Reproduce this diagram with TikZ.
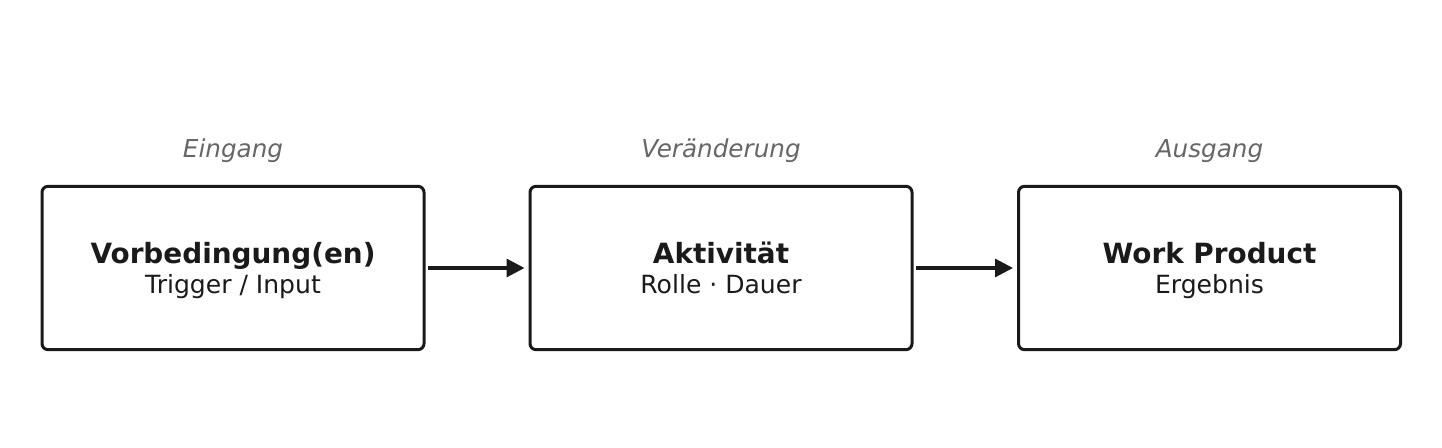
\documentclass[tikz,border=0pt]{standalone}
\usepackage{fontspec}
\setmainfont{DejaVu Sans}
\usetikzlibrary{arrows.meta, positioning}
\definecolor{ink}{HTML}{1A1A1A}
\definecolor{muted}{HTML}{666666}
\newcommand{\stagetitle}[1]{{\fontsize{20.9}{22.5}\selectfont\bfseries\rule{0pt}{19pt}\vphantom{Vg}#1}}
\newcommand{\stagesub}[1]{\vphantom{Tg}#1}
\begin{document}
\begin{tikzpicture}[x=0.75pt,y=-0.75pt,
    stage/.style={draw=ink, line width=2.25pt, rounded corners=4.5pt, fill=white,
      minimum width=286.5pt, minimum height=122.5pt, align=center, text=ink,
      font=\fontsize{18.8}{22.5}\selectfont},
    phase/.style={text=muted, anchor=base, font=\fontsize{18.5}{22}\selectfont\itshape},
    flow/.style={draw=ink, line width=2.4pt, -{Triangle[length=13.5pt,width=13.5pt]},
      shorten <=2pt, shorten >=3pt}]
    \useasboundingbox (0,0) rectangle (1442,448);

    \def\ybox{268}
    \def\ylabel{158}

    % Stages
    \node[stage] (pre) at (233,\ybox) {\stagetitle{Vorbedingung(en)}\\\stagesub{Trigger / Input}};
    \node[stage] (act) at (721,\ybox) {\stagetitle{Aktivität}\\\stagesub{Rolle · Dauer}};
    \node[stage] (wp) at (1209.5,\ybox) {\stagetitle{Work Product}\\\stagesub{Ergebnis}};

    % Labels
    \node[phase] (in) at (233,\ylabel) {Eingang};
    \node[phase] (change) at (721,\ylabel) {Veränderung};
    \node[phase] (out) at (1209.5,\ylabel) {Ausgang};

    % Flow
    \draw[flow] (pre) -- (act);
    \draw[flow] (act) -- (wp);
\end{tikzpicture}
\end{document}
